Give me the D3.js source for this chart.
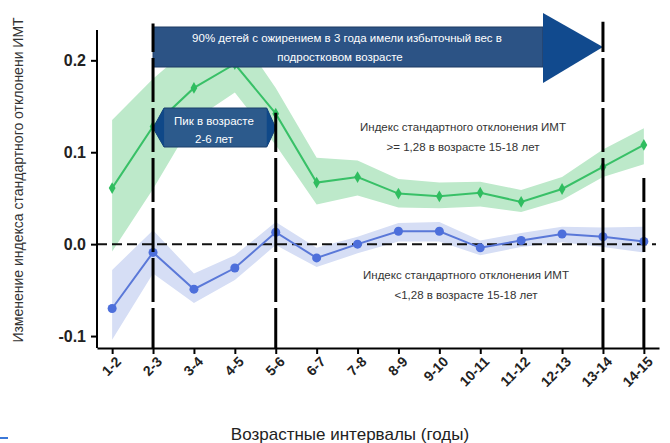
<!DOCTYPE html>
<html>
<head>
<meta charset="utf-8">
<script src="https://cdn.jsdelivr.net/npm/d3@7"></script>
<style>
  body { margin: 0; background: #fff; }
  svg { display: block; }
  text { font-family: "Liberation Sans", Arial, sans-serif; }
</style>
</head>
<body>
<div id="svgContainer"></div>
<script>
// age intervals (years)
const categories = ["1-2", "2-3", "3-4", "4-5", "5-6", "6-7", "7-8", "8-9", "9-10", "10-11", "11-12", "12-13", "13-14", "14-15"];

// BMI SDS >= 1.28 at 15-18 (green)
const highMean = [0.061, 0.128, 0.170, 0.196, 0.142, 0.067, 0.073, 0.055, 0.052, 0.056, 0.046, 0.060, 0.084, 0.108];
const highLow  = [-0.008, 0.060, 0.135, 0.165, 0.108, 0.043, 0.053, 0.040, 0.039, 0.041, 0.035, 0.048, 0.073, 0.087];
const highUp   = [0.135, 0.180, 0.218, 0.235, 0.170, 0.094, 0.091, 0.071, 0.067, 0.068, 0.059, 0.073, 0.103, 0.126];

// BMI SDS < 1.28 at 15-18 (blue)
const lowMean = [-0.070, -0.009, -0.049, -0.026, 0.013, -0.015, 0.000, 0.014, 0.014, -0.004, 0.004, 0.011, 0.008, 0.003];
const lowLow  = [-0.104, -0.032, -0.064, -0.039, -0.001, -0.025, -0.010, 0.003, 0.003, -0.012, -0.003, 0.002, -0.003, -0.009];
const lowUp   = [-0.028, 0.015, -0.032, -0.012, 0.024, -0.004, 0.008, 0.023, 0.024, 0.004, 0.012, 0.019, 0.018, 0.019];

const yTicks = [-0.1, 0.0, 0.1, 0.2];

// dashed markers: category and the value where the line starts
const markerLines = [
    { cat: "2-3", top: 0.240 },
    { cat: "5-6", top: 0.143 },
    { cat: "13-14", top: 0.242 },
    { cat: "14-15", top: 0.072 }
];

const width = 670, height = 443;

const svg = d3.select("#svgContainer").append("svg")
    .attr("width", width)
    .attr("height", height)
    .attr("viewBox", `0 0 ${width} ${height}`);

const x = d3.scalePoint()
    .domain(categories)
    .range([97, 659])
    .padding(0.37);

const y = d3.scaleLinear()
    .domain([-0.113, 0.233])
    .range([348, 30]);

const rows = (mean, lo, hi) => categories.map((c, i) => ({ c, m: mean[i], lo: lo[i], hi: hi[i] }));
const highRows = rows(highMean, highLow, highUp);
const lowRows = rows(lowMean, lowLow, lowUp);

const area = d3.area()
    .x(d => x(d.c))
    .y0(d => y(d.lo))
    .y1(d => y(d.hi));

const line = d3.line()
    .x(d => x(d.c))
    .y(d => y(d.m));

// bands
svg.append("path").datum(highRows)
    .attr("d", area)
    .attr("fill", "#bde9ca");
svg.append("path").datum(lowRows)
    .attr("fill", "#d6def5")
    .attr("d", area);

// zero line
svg.append("line")
    .attr("x1", 97).attr("x2", 656)
    .attr("y1", y(0)).attr("y2", y(0))
    .attr("stroke", "#111")
    .attr("stroke-width", 2)
    .attr("stroke-dasharray", "10,5");

// lines + markers
svg.append("path").datum(highRows)
    .attr("d", line)
    .attr("fill", "none")
    .attr("stroke", "#38c067")
    .attr("stroke-width", 2);
svg.append("g").selectAll("path")
    .data(highRows)
    .enter().append("path")
    .attr("d", d3.symbol(d3.symbolDiamond, 40))
    .attr("transform", d => `translate(${x(d.c)},${y(d.m)})`)
    .attr("fill", "#2fbd5f");

svg.append("path").datum(lowRows)
    .attr("d", line)
    .attr("fill", "none")
    .attr("stroke", "#5a78d8")
    .attr("stroke-width", 2);
svg.append("g").selectAll("circle")
    .data(lowRows)
    .enter().append("circle")
    .attr("cx", d => x(d.c))
    .attr("cy", d => y(d.m))
    .attr("r", 4.5)
    .attr("fill", "#4d6fdb");

// axes
const yAxis = svg.append("g")
    .attr("transform", "translate(97,0)")
    .call(d3.axisLeft(y).tickValues(yTicks).tickSize(6).tickPadding(5).tickFormat(d => d.toFixed(1)));
yAxis.select(".domain").attr("d", "M0,30V348").attr("stroke-width", 2);
yAxis.selectAll(".tick line").attr("stroke-width", 2);
yAxis.selectAll(".tick text")
    .attr("font-size", 16)
    .attr("font-weight", "bold")
    .attr("fill", "#222");

const xAxis = svg.append("g")
    .attr("transform", "translate(0,348)")
    .call(d3.axisBottom(x).tickSize(6).tickSizeOuter(0));
xAxis.select(".domain").attr("stroke-width", 2);
xAxis.selectAll(".tick line").attr("stroke-width", 2);
xAxis.selectAll(".tick text")
    .attr("x", 0).attr("y", 0).attr("dy", "0.35em")
    .attr("transform", "translate(6,11) rotate(-45)")
    .attr("text-anchor", "end")
    .attr("font-size", 14)
    .attr("font-weight", "bold")
    .attr("fill", "#222");

// big banner arrow
const banner = svg.append("g");
banner.append("rect")
    .attr("x", x("2-3")).attr("y", 27)
    .attr("width", 543 - x("2-3")).attr("height", 40)
    .attr("fill", "#2c5385")
    .attr("stroke", "#1d3b63")
    .attr("stroke-width", 1);
banner.append("path")
    .attr("d", `M543,13L${x("13-14")},47L543,83Z`)
    .attr("fill", "#114a8e");
banner.append("text")
    .attr("x", 347).attr("y", 42)
    .attr("text-anchor", "middle")
    .attr("font-size", 11.5)
    .attr("fill", "#fff")
    .text("90% детей с ожирением в 3 года имели избыточный вес в");
banner.append("text")
    .attr("x", 340).attr("y", 61)
    .attr("text-anchor", "middle")
    .attr("font-size", 11.5)
    .attr("fill", "#fff")
    .text("подростковом возрасте");

// peak label (double arrow)
const x0 = x("2-3"), x1 = x("5-6");
const peak = svg.append("g");
peak.append("path")
    .attr("d", `M${x0},128L${x0 + 11},108L${x1 - 9},108L${x1},128L${x1 - 9},147L${x0 + 11},147Z`)
    .attr("fill", "#2c5a8c")
    .attr("stroke", "#1b3f6b")
    .attr("stroke-width", 1);
peak.append("path")
    .attr("d", `M${x0},128L${x0 + 11},108L${x0 + 11},147Z`)
    .attr("fill", "#0f4888");
peak.append("path")
    .attr("d", `M${x1},128L${x1 - 9},108L${x1 - 9},147Z`)
    .attr("fill", "#0f4888");
peak.append("text")
    .attr("x", 214).attr("y", 125)
    .attr("text-anchor", "middle")
    .attr("font-size", 11.5)
    .attr("fill", "#fff")
    .text("Пик в возрасте");
peak.append("text")
    .attr("x", 214).attr("y", 143)
    .attr("text-anchor", "middle")
    .attr("font-size", 11.5)
    .attr("fill", "#fff")
    .text("2-6 лет");

// vertical dashed markers, gaps kept on the same grid
svg.append("g").selectAll("line")
    .data(markerLines)
    .enter().append("line")
    .attr("x1", d => x(d.cat)).attr("x2", d => x(d.cat))
    .attr("y1", d => y(d.top)).attr("y2", 348)
    .attr("stroke", "#000")
    .attr("stroke-width", 3)
    .attr("stroke-dasharray", "44,6")
    .attr("stroke-dashoffset", d => (((y(d.top) - 8) % 50) + 50) % 50);

// series notes
const note = (cx, cy, lines) => {
    lines.forEach((t, i) => {
        svg.append("text")
            .attr("x", cx).attr("y", cy + i * 20)
            .attr("text-anchor", "middle")
            .attr("font-size", 11.5)
            .attr("fill", "#333")
            .text(t);
    });
};
note(463, 131, ["Индекс стандартного отклонения ИМТ", ">= 1,28 в возрасте 15-18 лет"]);
note(466, 279, ["Индекс стандартного отклонения ИМТ", "<1,28 в возрасте 15-18 лет"]);

// axis titles
svg.append("text")
    .attr("transform", "translate(23,180) rotate(-90)")
    .attr("text-anchor", "middle")
    .attr("font-size", 14)
    .attr("fill", "#333")
    .text("Изменение индекса стандартного отклонени ИМТ");

svg.append("text")
    .attr("x", 350).attr("y", 440)
    .attr("text-anchor", "middle")
    .attr("font-size", 17)
    .attr("fill", "#222")
    .text("Возрастные интервалы (годы)");

// small blue mark bottom left
svg.append("rect")
    .attr("x", 0).attr("y", 437)
    .attr("width", 8).attr("height", 2)
    .attr("fill", "#3b78d8");
</script>
</body>
</html>
